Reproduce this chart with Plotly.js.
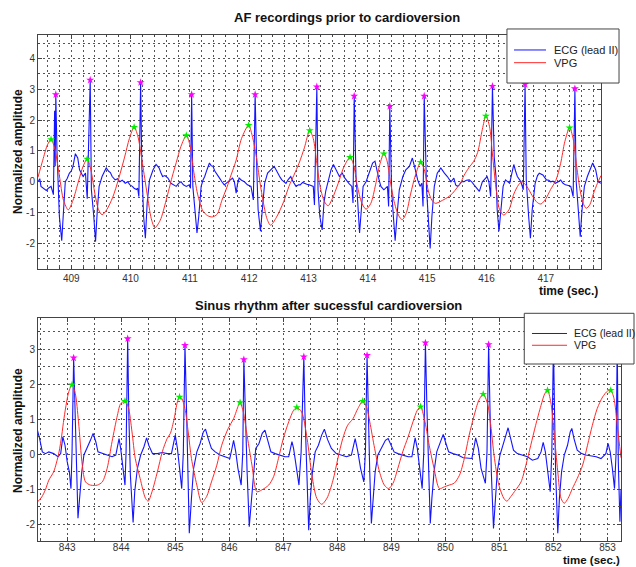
<!DOCTYPE html>
<html>
<head>
<meta charset="utf-8">
<script src="https://cdn.plot.ly/plotly-3.0.1.min.js"></script>
<style>html,body{margin:0;padding:0;background:#fff;}#chart{width:636px;height:567px;}</style>
</head>
<body>
<div id="chart"></div>
<script>
// ---------- DATA ----------
// Top panel: AF recordings (time in s, normalized amplitude)
var ecgTop = [[408.44,0.0],[408.47,0.1],[408.49,-0.15],[408.53,-0.2],[408.58,-0.28],[408.62,-0.2],[408.66,-0.15],[408.70,-0.42],[408.72,2.3],[408.73,0.5],[408.74,2.83],[408.76,1.0],[408.78,-0.26],[408.80,-1.12],[408.84,-1.91],[408.87,-0.8],[408.90,0.0],[408.93,0.1],[408.97,0.28],[409.00,0.35],[409.03,0.5],[409.07,0.91],[409.11,0.77],[409.14,0.39],[409.17,0.3],[409.20,0.17],[409.24,0.28],[409.27,-0.55],[409.32,3.3],[409.34,-0.26],[409.38,-1.12],[409.41,-1.94],[409.44,-0.91],[409.47,-0.15],[409.52,0.17],[409.56,0.35],[409.59,0.45],[409.63,0.34],[409.66,0.3],[409.69,0.17],[409.74,0.06],[409.78,0.1],[409.82,0.0],[409.86,0.05],[409.91,-0.05],[409.95,0.0],[409.99,-0.1],[410.03,-0.15],[410.06,-0.21],[410.10,-0.25],[410.12,-0.21],[410.14,-0.48],[410.17,3.22],[410.19,0.5],[410.20,-0.26],[410.22,-1.12],[410.25,-1.83],[410.28,-0.69],[410.32,0.06],[410.35,0.25],[410.38,0.39],[410.43,0.56],[410.46,0.5],[410.48,0.45],[410.51,0.3],[410.54,0.17],[410.58,0.2],[410.63,0.12],[410.68,-0.05],[410.72,-0.1],[410.77,-0.15],[410.81,-0.05],[410.85,0.0],[410.89,-0.1],[410.94,-0.15],[410.97,-0.12],[410.99,-0.1],[411.01,-0.21],[411.03,2.83],[411.05,-0.15],[411.08,-0.91],[411.12,-1.66],[411.15,-1.12],[411.19,-0.15],[411.22,0.05],[411.25,0.17],[411.29,0.4],[411.33,0.61],[411.36,0.52],[411.39,0.5],[411.42,0.35],[411.44,0.28],[411.47,0.2],[411.50,0.12],[411.54,0.0],[411.58,-0.1],[411.61,-0.05],[411.64,0.0],[411.68,0.08],[411.72,0.12],[411.75,0.0],[411.78,-0.37],[411.80,-0.1],[411.83,0.12],[411.87,0.05],[411.92,0.0],[411.97,-0.1],[412.03,-0.15],[412.07,-0.59],[412.10,2.83],[412.13,0.28],[412.15,-0.91],[412.19,-1.6],[412.22,-0.91],[412.26,-0.05],[412.31,0.28],[412.34,0.35],[412.37,0.39],[412.42,0.5],[412.45,0.4],[412.48,0.28],[412.52,0.15],[412.55,0.06],[412.59,0.0],[412.62,-0.05],[412.66,0.08],[412.70,0.17],[412.74,0.0],[412.79,-0.15],[412.83,-0.1],[412.86,-0.1],[412.90,-0.02],[412.93,-0.05],[412.97,-0.08],[413.01,-0.1],[413.05,-0.12],[413.08,-0.15],[413.10,-0.75],[413.14,3.08],[413.16,-0.26],[413.19,-1.12],[413.23,-1.56],[413.26,-0.69],[413.29,-0.3],[413.32,-0.05],[413.35,0.2],[413.38,0.39],[413.42,0.56],[413.46,0.39],[413.49,0.25],[413.52,0.17],[413.55,0.25],[413.57,0.28],[413.60,0.15],[413.63,0.06],[413.68,-0.05],[413.73,-0.15],[413.75,-0.69],[413.77,2.78],[413.80,0.17],[413.83,-0.69],[413.86,-1.66],[413.89,-0.91],[413.92,-0.15],[413.97,0.0],[414.02,0.28],[414.05,0.45],[414.08,0.61],[414.12,0.67],[414.16,0.28],[414.19,0.05],[414.22,-0.15],[414.27,-0.26],[414.33,-0.15],[414.35,-0.8],[414.37,2.45],[414.40,-0.26],[414.43,-1.12],[414.46,-1.91],[414.50,-0.91],[414.53,-0.26],[414.59,0.17],[414.64,0.39],[414.70,0.5],[414.75,0.77],[414.80,0.39],[414.84,0.06],[414.88,-0.15],[414.91,-0.05],[414.93,-0.8],[414.95,2.78],[414.99,-0.26],[415.02,-1.12],[415.05,-2.16],[415.08,-1.12],[415.12,-0.15],[415.17,0.28],[415.20,0.38],[415.23,0.45],[415.29,0.28],[415.34,0.17],[415.40,0.0],[415.45,0.12],[415.48,-0.1],[415.51,-0.15],[415.54,-0.1],[415.58,0.0],[415.62,0.0],[415.66,0.05],[415.71,0.06],[415.75,0.0],[415.79,-0.1],[415.84,-0.2],[415.88,-0.31],[415.93,0.0],[415.97,0.1],[416.01,0.17],[416.04,0.0],[416.07,-0.48],[416.10,3.1],[416.13,0.8],[416.16,0.17],[416.18,-0.91],[416.21,-1.6],[416.24,-0.91],[416.28,-0.15],[416.32,0.06],[416.36,0.0],[416.39,-0.05],[416.43,0.3],[416.46,0.56],[416.49,0.35],[416.52,0.17],[416.58,0.0],[416.62,-0.26],[416.65,3.16],[416.67,0.06],[416.71,-1.12],[416.74,-1.83],[416.77,-0.91],[416.82,-0.05],[416.86,0.2],[416.89,0.28],[416.95,0.22],[417.01,0.06],[417.05,0.05],[417.08,0.0],[417.12,0.02],[417.16,-0.05],[417.21,0.0],[417.25,0.06],[417.29,-0.05],[417.33,-0.1],[417.38,-0.12],[417.42,-0.15],[417.46,-0.48],[417.49,3.02],[417.51,0.06],[417.55,-1.12],[417.58,-1.78],[417.61,-0.91],[417.65,-0.15],[417.70,0.17],[417.75,0.45],[417.79,0.61],[417.84,0.39],[417.88,0.0],[417.93,-0.05]];

var vpgTop = [[408.44,0.15],[408.52,0.7],[408.60,1.2],[408.66,1.37],[408.72,1.1],[408.80,0.2],[408.87,-0.6],[408.95,-0.91],[409.03,-0.6],[409.12,0.0],[409.20,0.5],[409.27,0.74],[409.33,0.4],[409.40,-0.4],[409.46,-0.9],[409.52,-1.07],[409.60,-0.9],[409.70,-0.5],[409.80,0.1],[409.90,0.8],[409.98,1.4],[410.06,1.77],[410.12,1.5],[410.20,0.6],[410.28,-0.4],[410.35,-1.2],[410.41,-1.49],[410.50,-1.25],[410.60,-0.6],[410.70,0.15],[410.77,0.62],[410.85,1.15],[410.94,1.5],[411.00,1.2],[411.06,0.4],[411.13,-0.4],[411.22,-0.95],[411.30,-1.1],[411.38,-1.14],[411.46,-1.05],[411.54,-0.6],[411.62,-0.2],[411.70,0.25],[411.78,0.7],[411.87,1.4],[411.99,1.83],[412.05,1.5],[412.12,0.82],[412.18,0.0],[412.24,-0.69],[412.30,-1.2],[412.36,-1.41],[412.46,-1.15],[412.58,-0.65],[412.67,-0.15],[412.75,0.2],[412.84,0.6],[412.93,1.1],[413.02,1.66],[413.08,1.4],[413.14,0.6],[413.20,-0.2],[413.27,-0.65],[413.33,-0.78],[413.40,-0.55],[413.50,-0.05],[413.60,0.5],[413.70,0.79],[413.76,0.55],[413.82,-0.1],[413.90,-0.7],[413.97,-0.89],[414.05,-0.7],[414.13,-0.1],[414.20,0.55],[414.27,0.91],[414.32,0.7],[414.38,0.0],[414.45,-0.7],[414.52,-1.1],[414.58,-1.23],[414.65,-1.0],[414.72,-0.4],[414.80,0.2],[414.89,0.63],[414.95,0.4],[415.02,-0.3],[415.08,-0.6],[415.14,-0.7],[415.26,-0.6],[415.35,-0.5],[415.43,-0.37],[415.50,-0.2],[415.56,-0.05],[415.62,0.2],[415.70,0.45],[415.78,0.65],[415.85,0.95],[415.93,1.7],[415.99,2.13],[416.05,1.8],[416.10,0.9],[416.16,-0.2],[416.22,-0.9],[416.29,-1.08],[416.38,-0.9],[416.46,-0.4],[416.54,-0.1],[416.60,0.0],[416.68,-0.15],[416.77,-0.45],[416.86,-0.68],[416.92,-0.72],[417.00,-0.55],[417.08,-0.25],[417.17,0.05],[417.25,0.6],[417.32,1.3],[417.40,1.75],[417.46,1.4],[417.52,0.5],[417.58,-0.3],[417.63,-0.7],[417.68,-0.86],[417.74,-0.75],[417.80,-0.4],[417.87,-0.05],[417.93,0.2]];

var rPeakTopTime = [408.74,409.32,410.17,411.03,412.10,413.14,413.77,414.37,414.95,416.10,416.65,417.49];
var rPeakTopAmp  = [2.83,3.3,3.22,2.83,2.83,3.08,2.78,2.45,2.78,3.1,3.16,3.02];
var vpgPeakTopTime = [408.66,409.27,410.06,410.94,411.99,413.02,413.70,414.27,414.89,415.99,417.40];
var vpgPeakTopAmp  = [1.37,0.74,1.77,1.5,1.83,1.66,0.79,0.91,0.63,2.13,1.75];

// Bottom panel: sinus rhythm
var ecgBottom = [[842.44,0.74],[842.49,0.45],[842.54,0.07],[842.60,0.02],[842.66,0.07],[842.75,0.02],[842.83,-0.07],[842.88,0.02],[842.92,0.5],[842.96,0.26],[843.00,-0.21],[843.04,-0.5],[843.07,-0.98],[843.09,0.07],[843.12,2.76],[843.15,1.21],[843.17,-0.4],[843.20,-1.83],[843.23,-1.26],[843.27,-0.5],[843.31,-0.02],[843.37,0.17],[843.43,0.4],[843.48,0.6],[843.53,0.36],[843.57,0.07],[843.65,0.02],[843.74,-0.02],[843.83,-0.07],[843.90,-0.02],[843.96,0.45],[843.99,0.17],[844.03,-0.4],[844.07,-0.88],[844.09,0.07],[844.12,3.31],[844.14,1.21],[844.17,-0.6],[844.22,-1.95],[844.25,-1.07],[844.30,-0.4],[844.36,-0.02],[844.42,0.21],[844.47,0.47],[844.51,0.26],[844.58,0.02],[844.67,0.02],[844.76,0.05],[844.85,0.02],[844.93,0.02],[845.00,0.55],[845.04,0.17],[845.08,-0.4],[845.12,-0.98],[845.15,0.07],[845.18,3.12],[845.21,1.21],[845.23,-0.5],[845.26,-2.26],[845.30,-1.26],[845.34,-0.4],[845.40,0.07],[845.46,0.31],[845.52,0.64],[845.56,0.72],[845.61,0.45],[845.67,0.17],[845.74,0.07],[845.83,-0.02],[845.92,-0.07],[846.01,-0.12],[846.05,0.17],[846.08,0.4],[846.12,0.07],[846.16,-0.4],[846.22,-0.88],[846.25,0.07],[846.27,2.71],[846.30,1.02],[846.33,-0.5],[846.37,-2.07],[846.41,-1.26],[846.45,-0.5],[846.49,0.17],[846.55,0.31],[846.61,0.6],[846.66,0.69],[846.71,0.4],[846.77,0.07],[846.85,0.02],[846.94,-0.02],[847.03,-0.07],[847.10,-0.07],[847.16,0.36],[847.19,0.17],[847.24,-0.4],[847.29,-0.88],[847.33,0.07],[847.38,2.79],[847.40,1.21],[847.44,-0.5],[847.47,-2.17],[847.50,-1.26],[847.54,-0.5],[847.59,0.07],[847.65,0.26],[847.71,0.55],[847.76,0.72],[847.82,0.42],[847.89,0.17],[847.98,0.02],[848.07,-0.02],[848.17,-0.07],[848.26,-0.02],[848.33,0.45],[848.38,0.07],[848.43,-0.4],[848.49,-0.79],[848.52,0.07],[848.55,2.83],[848.57,1.21],[848.60,-0.5],[848.63,-1.98],[848.66,-1.26],[848.70,-0.5],[848.75,-0.02],[848.81,0.17],[848.89,0.4],[848.94,0.45],[848.99,0.26],[849.05,0.07],[849.12,0.02],[849.22,-0.02],[849.31,-0.07],[849.38,-0.07],[849.44,0.47],[849.48,0.17],[849.52,-0.4],[849.57,-0.98],[849.60,0.07],[849.63,3.19],[849.66,1.21],[849.69,-0.5],[849.72,-1.98],[849.75,-1.26],[849.79,-0.5],[849.84,0.07],[849.90,0.31],[849.96,0.57],[850.00,0.36],[850.06,0.07],[850.14,0.02],[850.23,-0.02],[850.33,-0.1],[850.42,-0.12],[850.49,-0.12],[850.53,0.2],[850.56,0.47],[850.61,0.17],[850.66,-0.4],[850.74,-0.83],[850.77,0.07],[850.80,3.14],[850.82,1.21],[850.85,-0.5],[850.89,-2.12],[850.93,-1.26],[850.96,-0.5],[851.01,-0.02],[851.08,0.31],[851.13,0.6],[851.16,0.76],[851.21,0.45],[851.26,0.12],[851.33,0.02],[851.43,-0.02],[851.52,-0.07],[851.61,-0.17],[851.71,-0.12],[851.77,0.07],[851.81,0.34],[851.85,0.07],[851.89,-0.4],[851.94,-1.07],[851.97,0.07],[852.00,3.2],[852.02,1.21],[852.04,-0.5],[852.08,-2.26],[852.11,-1.26],[852.15,-0.5],[852.20,-0.02],[852.26,0.26],[852.31,0.64],[852.34,0.74],[852.38,0.45],[852.44,0.12],[852.52,0.02],[852.60,-0.02],[852.69,-0.04],[852.79,-0.07],[852.88,-0.12],[852.97,0.02],[853.01,0.31],[853.05,0.07],[853.09,-0.4],[853.13,-0.98],[853.16,0.07],[853.18,3.2],[853.20,-0.21],[853.23,-1.93],[853.25,-1.0]];

var vpgBottom = [[842.44,-1.38],[842.53,-1.22],[842.60,-1.0],[842.66,-0.74],[842.75,-0.5],[842.80,-0.25],[842.85,0.07],[842.90,0.55],[842.94,1.02],[842.99,1.5],[843.03,1.79],[843.09,1.99],[843.15,1.74],[843.21,0.93],[843.28,-0.31],[843.34,-0.79],[843.43,-0.88],[843.50,-0.89],[843.56,-0.88],[843.65,-0.79],[843.74,-0.4],[843.83,0.36],[843.93,1.12],[843.99,1.45],[844.07,1.52],[844.13,1.36],[844.20,0.64],[844.26,-0.12],[844.35,-0.69],[844.45,-1.26],[844.50,-1.34],[844.57,-1.07],[844.67,-0.5],[844.76,0.07],[844.85,0.45],[844.91,0.6],[844.98,1.02],[845.04,1.5],[845.08,1.64],[845.12,1.6],[845.18,1.31],[845.24,0.64],[845.30,-0.12],[845.40,-0.88],[845.49,-1.38],[845.58,-1.21],[845.67,-0.79],[845.77,-0.31],[845.86,0.26],[845.98,0.74],[846.08,1.02],[846.17,1.4],[846.20,1.48],[846.26,1.21],[846.32,0.64],[846.42,-0.31],[846.51,-1.07],[846.60,-1.02],[846.73,-0.88],[846.82,-0.64],[846.91,-0.12],[847.00,0.45],[847.10,0.93],[847.19,1.26],[847.25,1.34],[847.34,1.21],[847.44,0.45],[847.53,-0.6],[847.62,-1.26],[847.71,-1.43],[847.81,-1.25],[847.92,-0.74],[848.01,-0.12],[848.10,0.45],[848.19,0.83],[848.29,1.02],[848.38,1.31],[848.47,1.52],[848.54,1.36],[848.60,0.93],[848.69,0.17],[848.78,-0.5],[848.87,-0.88],[848.95,-0.98],[849.03,-0.83],[849.12,-0.4],[849.21,0.07],[849.31,0.5],[849.40,0.93],[849.48,1.26],[849.54,1.36],[849.61,1.02],[849.70,0.26],[849.79,-0.4],[849.89,-0.98],[849.98,-0.93],[850.07,-0.88],[850.16,-0.83],[850.26,-0.6],[850.35,-0.12],[850.44,0.55],[850.53,1.1],[850.62,1.55],[850.70,1.72],[850.78,1.45],[850.84,0.83],[850.90,-0.02],[850.99,-0.88],[851.09,-1.28],[851.14,-1.34],[851.21,-1.21],[851.30,-1.02],[851.40,-0.79],[851.49,-0.31],[851.58,0.26],[851.67,0.83],[851.77,1.4],[851.84,1.74],[851.89,1.83],[851.95,1.5],[852.01,0.64],[852.08,-0.5],[852.14,-1.26],[852.20,-1.4],[852.27,-1.26],[852.35,-0.98],[852.44,-0.69],[852.54,-0.31],[852.63,0.26],[852.72,0.83],[852.81,1.31],[852.91,1.64],[853.00,1.81],[853.06,1.83],[853.12,1.6],[853.18,0.83],[853.25,-0.1]];

var rPeakBottomTime = [843.12,844.12,845.18,846.27,847.38,848.55,849.63,850.80,852.00,853.18];
var rPeakBottomAmp  = [2.76,3.31,3.12,2.71,2.79,2.83,3.19,3.14,3.2,3.2];
var vpgPeakBottomTime = [843.09,844.07,845.08,846.20,847.25,848.47,849.54,850.70,851.89,853.06];
var vpgPeakBottomAmp  = [1.99,1.52,1.64,1.48,1.34,1.52,1.36,1.72,1.83,1.83];

// Tick labels
var topXTicks = [409,410,411,412,413,414,415,416,417];
var bottomXTicks = [843,844,845,846,847,848,849,850,851,852,853];
var topYTicks = [-2,-1,0,1,2,3,4];
var bottomYTicks = [-2,-1,0,1,2,3];

// Texts
var titleTop = "AF recordings prior to cardioversion";
var titleBottom = "Sinus rhythm after sucessful cardioversion";
var yTitle = "Normalized amplitude";
var xTitle = "time (sec.)";
var seriesNames = ["ECG (lead II)", "VPG"];

// ---------- DRAW ----------
function col(arr, i){ return arr.map(function(p){ return p[i]; }); }

var BLUE = '#1414ff', RED = '#ff2a2a';
var FONT = 'Liberation Sans, Arial, sans-serif';

var traces = [
  {x: col(ecgTop,0), y: col(ecgTop,1), xaxis:'x', yaxis:'y', mode:'lines', name: seriesNames[0], line:{color:BLUE, width:1.1}, showlegend:false},
  {x: col(vpgTop,0), y: col(vpgTop,1), xaxis:'x', yaxis:'y', mode:'lines', name: seriesNames[1], line:{color:RED, width:1, shape:'spline', smoothing:0.8}, showlegend:false},
  {x: rPeakTopTime, y: rPeakTopAmp, xaxis:'x', yaxis:'y', mode:'markers', marker:{symbol:'star', size:6, color:'#ff00ff'}, showlegend:false},
  {x: vpgPeakTopTime, y: vpgPeakTopAmp, xaxis:'x', yaxis:'y', mode:'markers', marker:{symbol:'star', size:6, color:'#00ee00'}, showlegend:false},
  {x: col(ecgBottom,0), y: col(ecgBottom,1), xaxis:'x2', yaxis:'y2', mode:'lines', name: seriesNames[0], line:{color:BLUE, width:1.1}, showlegend:false},
  {x: col(vpgBottom,0), y: col(vpgBottom,1), xaxis:'x2', yaxis:'y2', mode:'lines', name: seriesNames[1], line:{color:RED, width:1, shape:'spline', smoothing:0.8}, showlegend:false},
  {x: rPeakBottomTime, y: rPeakBottomAmp, xaxis:'x2', yaxis:'y2', mode:'markers', marker:{symbol:'star', size:6, color:'#ff00ff'}, showlegend:false},
  {x: vpgPeakBottomTime, y: vpgPeakBottomAmp, xaxis:'x2', yaxis:'y2', mode:'markers', marker:{symbol:'star', size:6, color:'#00ee00'}, showlegend:false}
];

var GRID = '#555', DASH = '2px,3px';
function axisBase(extra){
  var a = {
    showline:true, linecolor:'#444', linewidth:1, mirror:'allticks',
    ticks:'inside', ticklen:4, tickcolor:'#444',
    showgrid:true, gridcolor:GRID, griddash:DASH, gridwidth:1,
    zeroline:false, tickfont:{family:FONT, size:10, color:'#333'},
    fixedrange:true
  };
  for (var k in extra) a[k] = extra[k];
  return a;
}
function minorGrid(t0, dt){
  return {tickmode:'linear', tick0:t0, dtick:dt, showgrid:true, gridcolor:GRID, griddash:DASH, gridwidth:1, ticks:'inside', ticklen:2, tickcolor:'#444'};
}

var layout = {
  width:636, height:567,
  paper_bgcolor:'#fff', plot_bgcolor:'#fff',
  margin:{l:38, r:15, t:35, b:26},
  showlegend:false,
  xaxis: axisBase({domain:[0,0.9657], anchor:'y', range:[408.44,417.93], tickmode:'array', tickvals:topXTicks, ticktext:topXTicks.map(String), minor:minorGrid(409,0.2)}),
  yaxis: axisBase({domain:[0.5381,1], anchor:'x', range:[-2.82,4.76], tickmode:'array', tickvals:topYTicks, ticktext:topYTicks.map(String), minor:minorGrid(0,0.5)}),
  xaxis2: axisBase({domain:[0,1], anchor:'y2', range:[842.46,853.25], tickmode:'array', tickvals:bottomXTicks, ticktext:bottomXTicks.map(String), ticklabelstandoff:-3, minor:minorGrid(843,0.5)}),
  yaxis2: axisBase({domain:[0,0.4407], anchor:'x2', range:[-2.48,3.9], tickmode:'array', tickvals:bottomYTicks, ticktext:bottomYTicks.map(String), minor:minorGrid(0,0.5)}),
  shapes: [
    {type:'rect', xref:'paper', yref:'paper', x0:0.8044, x1:0.9966, y0:0.9051, y1:1.0119, line:{color:'#444', width:1}, fillcolor:'#fff', layer:'above'},
    {type:'line', xref:'paper', yref:'paper', x0:0.8165, x1:0.8714, y0:0.9704, y1:0.9704, line:{color:BLUE, width:1}, layer:'above'},
    {type:'line', xref:'paper', yref:'paper', x0:0.8165, x1:0.8714, y0:0.9453, y1:0.9453, line:{color:RED, width:1}, layer:'above'},
    {type:'rect', xref:'paper', yref:'paper', x0:0.8341, x1:1.0223, y0:0.3498, y1:0.45, line:{color:'#444', width:1}, fillcolor:'#fff', layer:'above'},
    {type:'line', xref:'paper', yref:'paper', x0:0.8473, x1:0.9074, y0:0.4101, y1:0.4101, line:{color:BLUE, width:1}, layer:'above'},
    {type:'line', xref:'paper', yref:'paper', x0:0.8473, x1:0.9074, y0:0.3868, y1:0.3868, line:{color:RED, width:1}, layer:'above'}
  ],
  annotations: [
    {text:'<b>'+titleTop+'</b>', xref:'paper', yref:'paper', x:0.530, y:1.0336, xanchor:'center', yanchor:'middle', showarrow:false, font:{family:FONT, size:13, color:'#111'}},
    {text:'<b>'+titleBottom+'</b>', xref:'paper', yref:'paper', x:0.4991, y:0.4664, xanchor:'center', yanchor:'middle', showarrow:false, font:{family:FONT, size:13, color:'#111'}},
    {text:'<b>'+xTitle+'</b>', xref:'paper', yref:'paper', x:0.9628, y:0.4945, xanchor:'right', yanchor:'middle', showarrow:false, borderpad:0, font:{family:FONT, size:12, color:'#111'}},
    {text:'<b>'+xTitle+'</b>', xref:'paper', yref:'paper', x:1.0, y:-0.0372, xanchor:'right', yanchor:'middle', showarrow:false, borderpad:0, font:{family:FONT, size:11.5, color:'#111'}},
    {text:'<b>'+yTitle+'</b>', xref:'paper', yref:'paper', x:-0.0343, y:0.7688, xanchor:'center', yanchor:'middle', textangle:-90, showarrow:false, font:{family:FONT, size:12, color:'#111'}},
    {text:'<b>'+yTitle+'</b>', xref:'paper', yref:'paper', x:-0.0343, y:0.2174, xanchor:'center', yanchor:'middle', textangle:-90, showarrow:false, font:{family:FONT, size:12, color:'#111'}},
    {text:seriesNames[0], xref:'paper', yref:'paper', x:0.8816, y:0.9704, xanchor:'left', yanchor:'middle', showarrow:false, font:{family:FONT, size:11, color:'#222'}},
    {text:seriesNames[1], xref:'paper', yref:'paper', x:0.8816, y:0.9453, xanchor:'left', yanchor:'middle', showarrow:false, font:{family:FONT, size:11, color:'#222'}},
    {text:seriesNames[0], xref:'paper', yref:'paper', x:0.9177, y:0.4101, xanchor:'left', yanchor:'middle', showarrow:false, borderpad:0, font:{family:FONT, size:10.5, color:'#222'}},
    {text:seriesNames[1], xref:'paper', yref:'paper', x:0.9177, y:0.3868, xanchor:'left', yanchor:'middle', showarrow:false, borderpad:0, font:{family:FONT, size:10.5, color:'#222'}}
  ]
};

Plotly.newPlot('chart', traces, layout, {staticPlot:true, displayModeBar:false});
</script>
</body>
</html>
